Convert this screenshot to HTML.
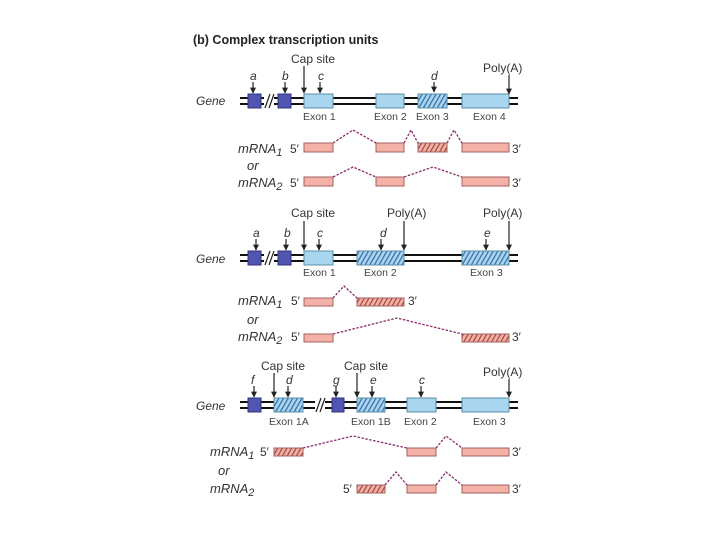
<!DOCTYPE html>
<html><head><meta charset="utf-8"><style>
html,body{margin:0;padding:0;background:#fff;width:720px;height:540px;overflow:hidden}
svg{display:block}
text{font-family:"Liberation Sans",sans-serif;fill:#333}
.it{font-style:italic;font-size:12px}
.ml{font-style:italic;font-size:13px}
.ex{font-size:10.5px;fill:#444}
.lb2{font-size:12px}
</style></head><body>
<svg width="720" height="540" viewBox="0 0 720 540" xmlns="http://www.w3.org/2000/svg">
<defs>
<pattern id="hb" width="4" height="4" patternUnits="userSpaceOnUse" patternTransform="rotate(30)">
<rect width="4" height="4" fill="#a9d6ee"/><rect width="1.3" height="4" fill="#3b6fa8"/></pattern>
<pattern id="hp" width="4" height="4" patternUnits="userSpaceOnUse" patternTransform="rotate(30)">
<rect width="4" height="4" fill="#f4b2a6"/><rect width="1.2" height="4" fill="#a0463c"/></pattern>
<marker id="ah" viewBox="0 0 10 10" refX="9" refY="5" markerWidth="5" markerHeight="5" orient="auto"><path d="M0,0L10,5L0,10z" fill="#222"/></marker>
</defs>
<style>
.ln{stroke:#111;stroke-width:2}
.lb1{fill:#a9d6ee;stroke:#5a8fa8;stroke-width:1}
.hbx{fill:url(#hb);stroke:#5a8fa8;stroke-width:1}
.db{fill:#4f55b0;stroke:#30347a;stroke-width:1}
.pk{fill:#f4b2a6;stroke:#a06060;stroke-width:1}
.hpx{fill:url(#hp);stroke:#a06060;stroke-width:1}
.in{fill:none;stroke:#8a2a6a;stroke-width:1.3;stroke-dasharray:2.5 1.5}
.ar{stroke:#222;stroke-width:1.2;marker-end:url(#ah)}
</style>

<text x="193" y="44" style="font-size:12.5px;font-weight:bold;fill:#222">(b)  Complex transcription units</text>

<!-- Panel 1 -->
<line class="ln" x1="240" y1="98" x2="518" y2="98"/><line class="ln" x1="240" y1="104" x2="518" y2="104"/>
<rect x="264" y="94" width="10" height="14" fill="#fff"/>
<line x1="265" y1="108" x2="270" y2="94" stroke="#222" stroke-width="1.2"/><line x1="269" y1="108" x2="274" y2="94" stroke="#222" stroke-width="1.2"/>
<rect class="db" x="248" y="94" width="13" height="14"/><rect class="db" x="278" y="94" width="13" height="14"/>
<rect class="lb1" x="304" y="94" width="29" height="14"/>
<rect class="lb1" x="376" y="94" width="28" height="14"/>
<rect class="hbx" x="418" y="94" width="29" height="14"/>
<rect class="lb1" x="462" y="94" width="47" height="14"/>
<text class="it" x="196" y="105">Gene</text>
<text class="it" x="250" y="80">a</text><line class="ar" x1="253" y1="82" x2="253" y2="93"/>
<text class="it" x="282" y="80">b</text><line class="ar" x1="285" y1="82" x2="285" y2="93"/>
<text class="lb2" x="291" y="63">Cap site</text><line class="ar" x1="304" y1="66" x2="304" y2="93"/>
<text class="it" x="318" y="80">c</text><line class="ar" x1="320" y1="82" x2="320" y2="93"/>
<text class="it" x="431" y="80">d</text><line class="ar" x1="434" y1="82" x2="434" y2="92"/>
<text class="lb2" x="483" y="72">Poly(A)</text><line class="ar" x1="509" y1="75" x2="509" y2="94"/>
<text class="ex" x="303" y="120">Exon 1</text><text class="ex" x="374" y="120">Exon 2</text>
<text class="ex" x="416" y="120">Exon 3</text><text class="ex" x="473" y="120">Exon 4</text>

<text class="ml" x="238" y="153">mRNA<tspan font-size="11" dy="3">1</tspan></text><text class="lb2" x="290" y="153">5′</text>
<rect class="pk" x="304" y="143" width="29" height="9"/>
<rect class="pk" x="376" y="143" width="28" height="9"/>
<rect class="hpx" x="418" y="143" width="29" height="9"/>
<rect class="pk" x="462" y="143" width="47" height="9"/>
<polyline class="in" points="333,143 353,130 376,143"/><polyline class="in" points="404,143 411,130 418,143"/><polyline class="in" points="447,143 454,130 462,143"/>
<text class="lb2" x="512" y="153">3′</text>
<text class="ml" x="247" y="170">or</text>
<text class="ml" x="238" y="187">mRNA<tspan font-size="11" dy="3">2</tspan></text><text class="lb2" x="290" y="187">5′</text>
<rect class="pk" x="304" y="177" width="29" height="9"/>
<rect class="pk" x="376" y="177" width="28" height="9"/>
<rect class="pk" x="462" y="177" width="47" height="9"/>
<polyline class="in" points="333,177 353,167 376,177"/><polyline class="in" points="404,177 433,167 462,177"/>
<text class="lb2" x="512" y="187">3′</text>

<!-- Panel 2 -->
<line class="ln" x1="240" y1="255" x2="518" y2="255"/><line class="ln" x1="240" y1="261" x2="518" y2="261"/>
<rect x="264" y="251" width="10" height="14" fill="#fff"/>
<line x1="265" y1="265" x2="270" y2="251" stroke="#222" stroke-width="1.2"/><line x1="269" y1="265" x2="274" y2="251" stroke="#222" stroke-width="1.2"/>
<rect class="db" x="248" y="251" width="13" height="14"/><rect class="db" x="278" y="251" width="13" height="14"/>
<rect class="lb1" x="304" y="251" width="29" height="14"/>
<rect class="hbx" x="357" y="251" width="47" height="14"/>
<rect class="hbx" x="462" y="251" width="47" height="14"/>
<text class="it" x="196" y="263">Gene</text>
<text class="it" x="253" y="237">a</text><line class="ar" x1="256" y1="239" x2="256" y2="250"/>
<text class="it" x="284" y="237">b</text><line class="ar" x1="286" y1="239" x2="286" y2="250"/>
<text class="lb2" x="291" y="217">Cap site</text><line class="ar" x1="304" y1="221" x2="304" y2="250"/>
<text class="it" x="317" y="237">c</text><line class="ar" x1="319" y1="239" x2="319" y2="250"/>
<text class="it" x="380" y="237">d</text><line class="ar" x1="381" y1="239" x2="381" y2="250"/>
<text class="lb2" x="387" y="217">Poly(A)</text><line class="ar" x1="404" y1="221" x2="404" y2="250"/>
<text class="it" x="484" y="237">e</text><line class="ar" x1="486" y1="239" x2="486" y2="250"/>
<text class="lb2" x="483" y="217">Poly(A)</text><line class="ar" x1="509" y1="221" x2="509" y2="250"/>
<text class="ex" x="303" y="276">Exon 1</text><text class="ex" x="364" y="276">Exon 2</text><text class="ex" x="470" y="276">Exon 3</text>

<text class="ml" x="238" y="305">mRNA<tspan font-size="11" dy="3">1</tspan></text><text class="lb2" x="291" y="305">5′</text>
<rect class="pk" x="304" y="298" width="29" height="8"/>
<rect class="hpx" x="357" y="298" width="47" height="8"/>
<polyline class="in" points="333,298 344,286 357,298"/>
<text class="lb2" x="408" y="305">3′</text>
<text class="ml" x="247" y="324">or</text>
<text class="ml" x="238" y="341">mRNA<tspan font-size="11" dy="3">2</tspan></text><text class="lb2" x="291" y="341">5′</text>
<rect class="pk" x="304" y="334" width="29" height="8"/>
<rect class="hpx" x="462" y="334" width="47" height="8"/>
<polyline class="in" points="333,334 397,318 462,334"/>
<text class="lb2" x="512" y="341">3′</text>

<!-- Panel 3 -->
<line class="ln" x1="240" y1="402" x2="518" y2="402"/><line class="ln" x1="240" y1="408" x2="518" y2="408"/>
<rect x="315" y="398" width="10" height="14" fill="#fff"/>
<line x1="316" y1="412" x2="321" y2="398" stroke="#222" stroke-width="1.2"/><line x1="320" y1="412" x2="325" y2="398" stroke="#222" stroke-width="1.2"/>
<rect class="db" x="248" y="398" width="13" height="14"/>
<rect class="hbx" x="274" y="398" width="29" height="14"/>
<rect class="db" x="332" y="398" width="12" height="14"/>
<rect class="hbx" x="357" y="398" width="28" height="14"/>
<rect class="lb1" x="407" y="398" width="29" height="14"/>
<rect class="lb1" x="462" y="398" width="47" height="14"/>
<text class="it" x="196" y="410">Gene</text>
<text class="it" x="251" y="384">f</text><line class="ar" x1="254" y1="386" x2="254" y2="397"/>
<text class="lb2" x="261" y="370">Cap site</text><line class="ar" x1="274" y1="373" x2="274" y2="397"/>
<text class="it" x="286" y="384">d</text><line class="ar" x1="288" y1="386" x2="288" y2="397"/>
<text class="it" x="333" y="384">g</text><line class="ar" x1="336" y1="386" x2="336" y2="397"/>
<text class="lb2" x="344" y="370">Cap site</text><line class="ar" x1="357" y1="373" x2="357" y2="397"/>
<text class="it" x="370" y="384">e</text><line class="ar" x1="372" y1="386" x2="372" y2="397"/>
<text class="it" x="419" y="384">c</text><line class="ar" x1="421" y1="386" x2="421" y2="397"/>
<text class="lb2" x="483" y="376">Poly(A)</text><line class="ar" x1="509" y1="379" x2="509" y2="397"/>
<text class="ex" x="269" y="425">Exon 1A</text><text class="ex" x="351" y="425">Exon 1B</text>
<text class="ex" x="404" y="425">Exon 2</text><text class="ex" x="473" y="425">Exon 3</text>

<text class="ml" x="210" y="456">mRNA<tspan font-size="11" dy="3">1</tspan></text><text class="lb2" x="260" y="456">5′</text>
<rect class="hpx" x="274" y="448" width="29" height="8"/>
<rect class="pk" x="407" y="448" width="29" height="8"/>
<rect class="pk" x="462" y="448" width="47" height="8"/>
<polyline class="in" points="303,448 353,436 407,448"/><polyline class="in" points="436,448 446,436 462,448"/>
<text class="lb2" x="512" y="456">3′</text>
<text class="ml" x="218" y="475">or</text>
<text class="ml" x="210" y="493">mRNA<tspan font-size="11" dy="3">2</tspan></text><text class="lb2" x="343" y="493">5′</text>
<rect class="hpx" x="357" y="485" width="28" height="8"/>
<rect class="pk" x="407" y="485" width="29" height="8"/>
<rect class="pk" x="462" y="485" width="47" height="8"/>
<polyline class="in" points="385,485 396,472 407,485"/><polyline class="in" points="436,485 446,472 462,485"/>
<text class="lb2" x="512" y="493">3′</text>
</svg>
</body></html>
